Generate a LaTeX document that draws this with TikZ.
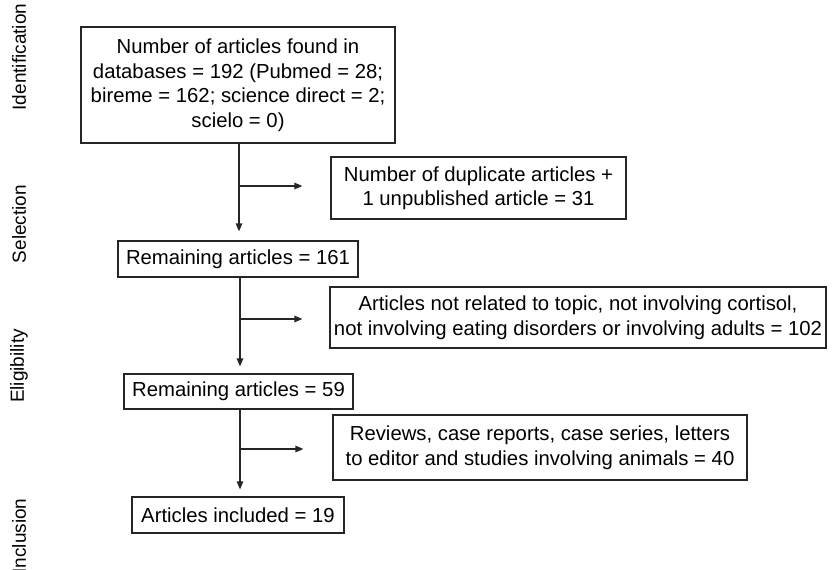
\documentclass[tikz,border=0pt]{standalone}
\usepackage{fontspec}
\setmainfont{Liberation Sans}
\usetikzlibrary{arrows.meta}
\begin{document}
\begin{tikzpicture}[x=1pt,y=-1pt,
  every node/.style={font=\fontsize{20.3}{24.5}\selectfont, inner sep=0pt},
  box/.style={draw=black!85, line width=1.2pt, align=center, anchor=center},
  arr/.style={draw=black!85, line width=1.2pt, -{Triangle[length=8pt,width=6.5pt]}},
  side/.style={rotate=90, anchor=center, font=\fontsize{19}{22}\selectfont}]
\useasboundingbox (0,0) rectangle (833,570);
\node[box, minimum width=314pt, minimum height=116pt] (b1) at (238,85)
  {Number of articles found in\\databases = 192 (Pubmed = 28;\\bireme = 162; science direct = 2;\\scielo = 0)};
\node[box, minimum width=295pt, minimum height=62pt] (b2) at (478.5,188)
  {Number of duplicate articles +\\1 unpublished article = 31};
\node[box, minimum width=240pt, minimum height=36pt] (b3) at (238,259)
  {Remaining articles = 161};
\node[box, minimum width=496pt, minimum height=61pt] (b4) at (578,317.5)
  {Articles not related to topic, not involving cortisol,\\not involving eating disorders or involving adults = 102};
\node[box, minimum width=229pt, minimum height=35pt] (b5) at (238.5,391.5)
  {Remaining articles = 59};
\node[box, minimum width=414pt, minimum height=65pt] (b6) at (540,447.5)
  {Reviews, case reports, case series, letters\\to editor and studies involving animals = 40};
\node[box, minimum width=212pt, minimum height=36pt] (b7) at (238,515)
  {Articles included = 19};
\node[side] (l1) at (19,57) {Identification};
\node[side] (l2) at (19,224) {Selection};
\node[side] (l3) at (19,366) {Eligibility};
\node[side] (l4) at (19,536) {Inclusion};
\coordinate (j1) at (239,186);
\coordinate (j2) at (240,319);
\coordinate (j3) at (240,449);
\draw[arr, shorten >=9pt] (b1.south -| j1) -- (b3.north -| j1);
\draw[arr, shorten >=28pt] (j1) -- (j1 -| b2.west);
\draw[arr, shorten >=7pt] (b3.south -| j2) -- (b5.north -| j2);
\draw[arr, shorten >=27pt] (j2) -- (j2 -| b4.west);
\draw[arr, shorten >=7pt] (b5.south -| j3) -- (b7.north -| j3);
\draw[arr, shorten >=29pt] (j3) -- (j3 -| b6.west);
\end{tikzpicture}
\end{document}
